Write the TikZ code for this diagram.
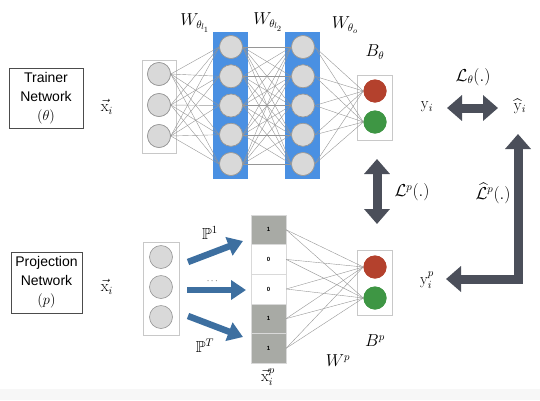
\documentclass[tikz,border=0pt]{standalone}
\usepackage{fontspec}
\usepackage{amsmath,amssymb}
\newfontfamily\arialf{Liberation Sans}
\usetikzlibrary{arrows.meta}
\definecolor{layerblue}{RGB}{74,144,226}
\definecolor{neurongray}{RGB}{217,217,217}
\definecolor{neuronedge}{RGB}{150,150,150}
\definecolor{boxgray}{RGB}{200,200,200}
\definecolor{linegray}{RGB}{150,150,150}
\definecolor{redout}{RGB}{180,65,45}
\definecolor{greenout}{RGB}{62,150,68}
\definecolor{arrowdark}{RGB}{75,79,90}
\definecolor{arrowblue}{RGB}{61,111,160}
\definecolor{cellgray}{RGB}{168,170,165}
\definecolor{bandgray}{RGB}{247,247,247}
\begin{document}
\begin{tikzpicture}[x=1pt,y=-1pt,
  neuron/.style={circle, minimum size=23pt, inner sep=0pt, fill=neurongray, draw=neuronedge, line width=0.6pt},
  redn/.style={circle, minimum size=23pt, inner sep=0pt, fill=redout, draw=none},
  greenn/.style={circle, minimum size=23pt, inner sep=0pt, fill=greenout, draw=none},
  layerbox/.style={rectangle, fill=layerblue, draw=none, inner sep=0pt, minimum width=35pt, minimum height=147pt},
  inbox/.style={rectangle, draw=boxgray, fill=white, line width=0.6pt, inner sep=0pt},
  conn/.style={draw=linegray, line width=0.4pt},
  mathlbl/.style={font=\fontsize{16}{19}\selectfont, inner sep=0pt},
  sansbox/.style={draw=black!70, line width=0.8pt, align=center, font=\arialf\fontsize{14}{19}\selectfont, inner sep=0pt},
  bigarrow/.style={draw=arrowdark, line width=9pt, line join=miter, {Triangle[width=25pt,length=15pt]}-{Triangle[width=25pt,length=15pt]}},
  bluearrow/.style={draw=arrowblue, line width=6.5pt, -{Triangle[width=19pt,length=15pt]}},
  cell/.style={rectangle, minimum width=35pt, minimum height=29.6pt, inner sep=0pt, draw=black!15, line width=0.4pt, font=\arialf\bfseries\fontsize{6}{7}\selectfont},
  fullcell/.style={cell, fill=cellgray},
  emptycell/.style={cell, fill=white}
]
\useasboundingbox (0,0) rectangle (540,400);
\fill[bandgray] (0,389) rectangle (540,400);

% ---------- Trainer network ----------
\node[sansbox, minimum width=74pt, minimum height=60pt] (trainer) at (46,98) {Trainer\\Network\\$(\theta)$};
\node[mathlbl] (xt) at (107,107) {$\vec{\mathrm{x}}_i$};

\node[inbox, minimum width=34pt, minimum height=93pt] (inboxT) at (159,106.5) {};
\node[layerbox] (L1) at (230.5,105.5) {};
\node[layerbox] (L2) at (302.5,105.5) {};
\node[inbox, minimum width=35pt, minimum height=65pt] (outboxT) at (374.5,107.5) {};

\foreach \i/\y in {1/74,2/105,3/136} \node[neuron] (in\i) at (159,\y) {};
\foreach \i/\y in {1/47,2/76.25,3/105.5,4/134.75,5/164} {
  \node[neuron] (h\i) at (231,\y) {};
  \node[neuron] (k\i) at (303,\y) {};
}
\node[redn] (ot1) at (375,91) {};
\node[greenn] (ot2) at (375,122) {};

\foreach \a in {1,2,3} \foreach \b in {1,...,5} \draw[conn] (in\a.east) -- (h\b.west);
\foreach \a in {1,...,5} \foreach \b in {1,...,5} \draw[conn] (h\a.east) -- (k\b.west);
\foreach \a in {1,...,5} \foreach \b in {1,2} \draw[conn] (k\a.east) -- (ot\b.west);
% redraw neurons on top of the connectors
\foreach \i/\y in {1/74,2/105,3/136} \node[neuron] at (159,\y) {};
\foreach \i/\y in {1/47,2/76.25,3/105.5,4/134.75,5/164} {
  \node[neuron] at (231,\y) {};
  \node[neuron] at (303,\y) {};
}
\node[redn] at (375,91) {};
\node[greenn] at (375,122) {};

\node[mathlbl] (w1) at (195,23) {$W_{\theta_{l_1}}$};
\node[mathlbl] (w2) at (268,22) {$W_{\theta_{l_2}}$};
\node[mathlbl] (wo) at (345,25) {$W_{\theta_o}$};
\node[mathlbl] (bt) at (375,52) {$B_\theta$};

\node[mathlbl] (yi) at (427,107) {$\mathrm{y}_i$};
\node[mathlbl] (yhat) at (520,106) {$\widehat{\mathrm{y}}_i$};
\node[mathlbl] (lt) at (473,77) {$\mathcal{L}_\theta(.)$};

% ---------- Projection network ----------
\node[sansbox, minimum width=71pt, minimum height=61pt] (proj) at (46.5,282.5) {Projection\\Network\\$(p)$};
\node[mathlbl] (xp) at (107,287) {$\vec{\mathrm{x}}_i$};

\node[inbox, minimum width=36pt, minimum height=93pt] (inboxP) at (161,288.5) {};
\foreach \i/\y in {1/257,2/287,3/317} \node[neuron] (pin\i) at (161,\y) {};

\node[fullcell]  (cell1) at (268.5,229.8) {1};
\node[emptycell] (cell2) at (268.5,259.4) {0};
\node[emptycell] (cell3) at (268.5,289.0) {0};
\node[fullcell]  (cell4) at (268.5,318.6) {1};
\node[fullcell]  (cell5) at (268.5,348.2) {1};

\node[inbox, minimum width=35pt, minimum height=65pt] (outboxP) at (374.5,282.5) {};
\node[redn] (ob1) at (375,267) {};
\node[greenn] (ob2) at (375,298) {};
\foreach \a in {1,...,5} \foreach \b in {1,2} \draw[conn] (cell\a.east) -- (ob\b.west);
\node[redn] at (375,267) {};
\node[greenn] at (375,298) {};

\coordinate (pa1s) at (188,262);
\coordinate (pa1e) at (243,241);
\coordinate (pa2s) at (187,290);
\coordinate (pa2e) at (246,290);
\coordinate (pa3s) at (188,316);
\coordinate (pa3e) at (243,337);
\draw[bluearrow] (pa1s) -- (pa1e);
\draw[bluearrow] (pa2s) -- (pa2e);
\draw[bluearrow] (pa3s) -- (pa3e);

\node[mathlbl] (p1) at (210,233) {$\mathbb{P}^1$};
\node[font=\fontsize{9}{10}\selectfont, inner sep=0pt] (pdots) at (213,281) {$\cdots$};
\node[mathlbl] (pT) at (205,346) {$\mathbb{P}^T$};
\node[mathlbl] (xpp) at (268,377) {$\vec{\mathrm{x}}_i^p$};
\node[mathlbl] (wp) at (338,361) {$W^p$};
\node[mathlbl] (bp) at (375,341) {$B^p$};
\node[mathlbl] (yp) at (427,280) {$\mathrm{y}_i^p$};

% ---------- Loss arrows ----------
\coordinate (ta) at (447,108);
\coordinate (tb) at (498,108);
\draw[bigarrow] (ta) -- (tb);

\coordinate (ma) at (377,159);
\coordinate (mb) at (377,224);
\draw[bigarrow] (ma) -- (mb);
\node[mathlbl] (lp) at (412,192) {$\mathcal{L}^p(.)$};

\coordinate (la) at (446,279);
\coordinate (lc) at (518,279);
\coordinate (lb) at (518,134);
\draw[bigarrow] (la) -- (lc) -- (lb);
\node[mathlbl] (lph) at (493,193) {$\widehat{\mathcal{L}}^p(.)$};
\end{tikzpicture}
\end{document}
